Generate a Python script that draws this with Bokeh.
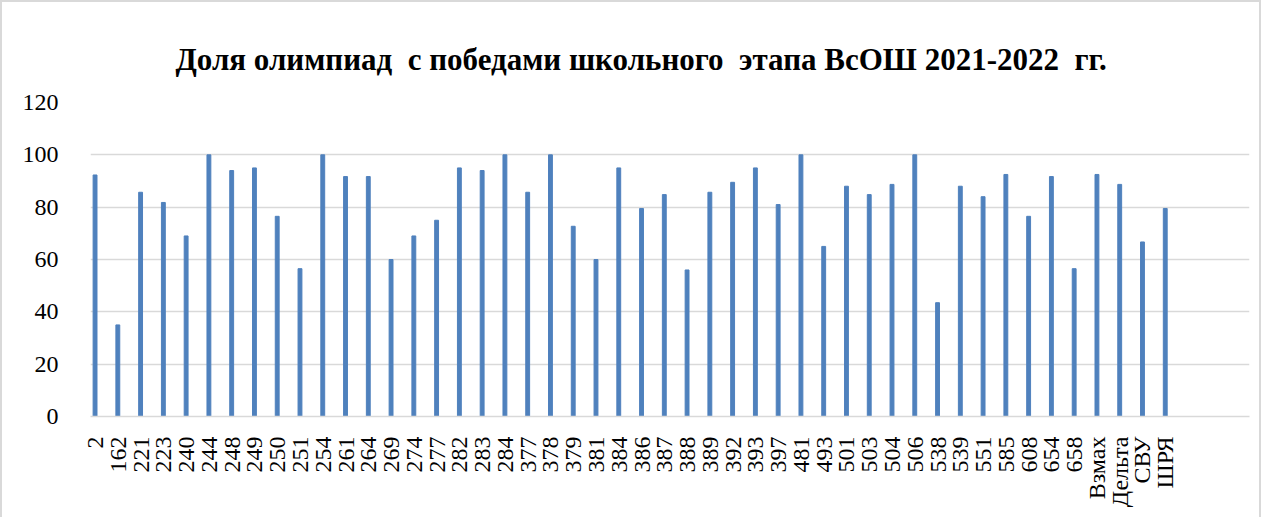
import math
from bokeh.plotting import figure
from bokeh.models import Range1d, FixedTicker, ColumnDataSource
from bokeh.embed import file_html
from bokeh.resources import INLINE

categories = ["2", "162", "221", "223", "240", "244", "248", "249", "250", "251",
              "254", "261", "264", "269", "274", "277", "282", "283", "284", "377",
              "378", "379", "381", "384", "386", "387", "388", "389", "392", "393",
              "397", "481", "493", "501", "503", "504", "506", "538", "539", "551",
              "585", "608", "654", "658", "Взмах", "Дельта", "СВУ", "ШРЯ"]
values = [92.3, 35.0, 85.7, 81.8, 69.0, 100.0, 94.0, 95.0, 76.5, 56.5,
          100.0, 91.7, 91.7, 60.0, 69.0, 75.0, 95.0, 94.0, 100.0, 85.7,
          100.0, 72.7, 60.0, 95.0, 79.5, 84.8, 56.0, 85.7, 89.5, 95.0,
          81.0, 100.0, 65.0, 88.0, 84.8, 88.7, 100.0, 43.5, 88.0, 84.0,
          92.5, 76.5, 91.7, 56.5, 92.5, 88.7, 66.7, 79.5]
y_ticks = [0, 20, 40, 60, 80, 100, 120]
title_text = "Доля олимпиад \u00a0с победами школьного \u00a0этапа ВсОШ 2021-2022 \u00a0гг."

xs = list(range(len(categories)))
src = ColumnDataSource(dict(x=xs, top=values, cat=categories))

FONT = "'Liberation Serif', 'Times New Roman', serif"

p = figure(width=1261, height=517, output_backend="svg", toolbar_location=None,
           x_range=Range1d(-0.2, 50.7), y_range=Range1d(0, 120),
           min_border_left=88, min_border_right=14, min_border_top=100,
           min_border_bottom=103)
p.styles = {"border": "2px solid #d9d9d9", "border-bottom": "none"}

p.vbar(x="x", top="top", width=0.17, color="#4f81bd", source=src)

p.title.text = title_text
p.title.text_font = FONT
p.title.text_font_size = "31px"
p.title.text_font_style = "bold"
p.title.text_color = "black"
p.title.align = "left"
p.title.offset = 85
p.title.standoff = 52

p.outline_line_color = None
p.xgrid.grid_line_color = None
p.ygrid.grid_line_color = "#d9d9d9"
p.ygrid.grid_line_width = 1.5
p.ygrid.ticker = FixedTicker(ticks=y_ticks)

p.xaxis.ticker = FixedTicker(ticks=xs)
p.xaxis.major_label_overrides = {i: c for i, c in zip(xs, categories)}
p.xaxis.major_label_orientation = math.pi / 2
p.xaxis.major_tick_line_color = None
p.xaxis.minor_tick_line_color = None
p.xaxis.axis_line_color = "#d9d9d9"
p.xaxis.axis_line_width = 1.5
p.xaxis.major_label_standoff = 14
p.xaxis.major_label_text_font = FONT
p.xaxis.major_label_text_font_size = "24px"
p.xaxis.major_label_text_color = "black"

p.yaxis.ticker = FixedTicker(ticks=y_ticks)
p.yaxis.axis_line_color = None
p.yaxis.major_tick_line_color = None
p.yaxis.minor_tick_line_color = None
p.yaxis.major_label_standoff = 26
p.yaxis.major_label_text_font = FONT
p.yaxis.major_label_text_font_size = "24px"
p.yaxis.major_label_text_color = "black"

open("out.html", "w").write(file_html(p, INLINE))
